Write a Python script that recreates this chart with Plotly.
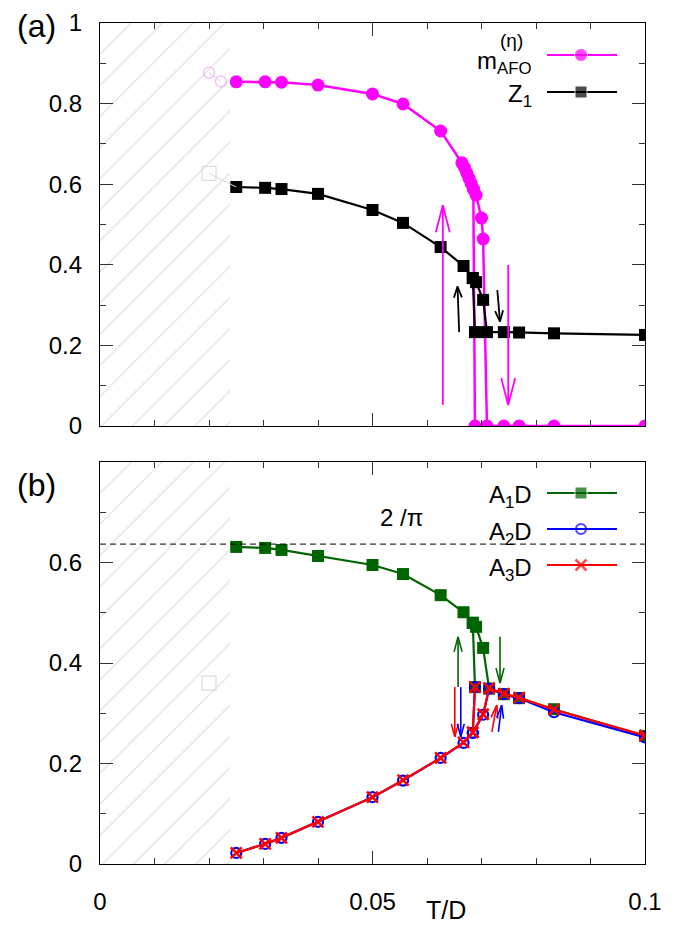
import math
import plotly.graph_objects as go

# ---------------- data ----------------
# panel (a): order parameter m_AFO^(eta) (heating / cooling branch)
T_m_heat = [0.025, 0.0303, 0.0333, 0.04, 0.05, 0.0556, 0.0625, 0.0664, 0.0669, 0.0673,
            0.0677, 0.0681, 0.0685, 0.0690, 0.0700, 0.0703, 0.0710, 0.0741, 0.0769, 0.0833, 0.1]
m_heat = [0.854, 0.854, 0.853, 0.846, 0.824, 0.799, 0.732, 0.653, 0.641, 0.628,
          0.615, 0.602, 0.588, 0.573, 0.516, 0.464, 0.0, 0.0, 0.0, 0.0, 0.0]
T_m_cool = [0.0685, 0.0688]
m_cool = [0.588, 0.0]

# panel (a): quasiparticle weight Z_1
T_z_heat = [0.025, 0.0303, 0.0333, 0.04, 0.05, 0.0556, 0.0625, 0.0667, 0.0684, 0.0690,
            0.0703, 0.0710, 0.0741, 0.0769, 0.0833, 0.1]
z_heat = [0.593, 0.591, 0.588, 0.576, 0.536, 0.504, 0.444, 0.397, 0.367, 0.357,
          0.313, 0.233, 0.233, 0.232, 0.230, 0.226]
T_z_cool = [0.0684, 0.0688]
z_cool = [0.367, 0.233]

# panel (b): A_1 D, A_2 D, A_3 D
T_b_heat = [0.025, 0.0303, 0.0333, 0.04, 0.05, 0.0556, 0.0625, 0.0667, 0.0684, 0.0690,
            0.0703, 0.0714, 0.0741, 0.0769, 0.0833, 0.1]
a1_heat = [0.631, 0.629, 0.625, 0.613, 0.595, 0.577, 0.535, 0.501, 0.480, 0.472,
           0.430, 0.349, 0.338, 0.330, 0.308, 0.255]
T_b_low = [0.025, 0.0303, 0.0333, 0.04, 0.05, 0.0556, 0.0625, 0.0667, 0.0684,
           0.0703, 0.0714, 0.0741, 0.0769, 0.0833, 0.1]
a2_heat = [0.022, 0.040, 0.052, 0.084, 0.133, 0.166, 0.211, 0.241, 0.261,
           0.297, 0.349, 0.338, 0.330, 0.302, 0.252]
a3_heat = [0.022, 0.040, 0.052, 0.084, 0.133, 0.167, 0.211, 0.242, 0.262,
           0.298, 0.350, 0.339, 0.331, 0.307, 0.256]
T_b_cool = [0.0684, 0.0688]
a1_cool = [0.480, 0.352]
a2_cool = [0.261, 0.352]
a3_cool = [0.262, 0.352]

# unconverged (faded) points inside the hatched region
T_fade_m = [0.0200, 0.0222]
m_fade = [0.877, 0.855]
T_fade_z = [0.0200, 0.025]
z_fade = [0.627, 0.593]
T_fade_a1 = [0.0200]
a1_fade = [0.360]

T_hatch = 0.02385
two_over_pi = 2 / math.pi

# hysteresis arrows: (x0, y0, x1, y1)
arrows_a = [
    ((0.0629, 0.052, 0.0629, 0.548), "#ff00ff", 1.8, 27, 7),
    ((0.0749, 0.400, 0.0749, 0.052), "#ff00ff", 1.8, 27, 7),
    ((0.0659, 0.233, 0.0656, 0.346), "black", 1.8, 11, 4),
    ((0.0729, 0.337, 0.0734, 0.259), "black", 1.8, 11, 4),
]
arrows_b = [
    ((0.0657, 0.352, 0.0657, 0.452), "#006400", 1.6, 15, 4),
    ((0.0734, 0.452, 0.0734, 0.360), "#006400", 1.6, 15, 4),
    ((0.0651, 0.352, 0.0651, 0.253), "#ff0000", 1.6, 13, 3.5),
    ((0.0662, 0.352, 0.0662, 0.253), "#0000ff", 1.6, 13, 3.5),
    ((0.0719, 0.263, 0.0728, 0.316), "#ff0000", 1.6, 13, 3.5),
    ((0.0731, 0.263, 0.0737, 0.316), "#0000ff", 1.6, 13, 3.5),
]

# ---------------- layout geometry ----------------
# the page body adds an 8px offset; target plot box on screen: x 100..645, y 23..864
OFF = 8
W, H = 683, 933
PW, PH = 545, 841
ML, MT = 100 - OFF, 23 - OFF
MR = W - ML - PW
MB = H - MT - PH
DOM_A = [0.5208, 1.0]
DOM_B = [0.0, 0.478]
XR = [0, 0.1]
YRA = [0, 1]
YRB = [0, 0.8]
FONT = "Liberation Sans, Arial, sans-serif"

KX = PW / (XR[1] - XR[0])
KYA = PH * (DOM_A[1] - DOM_A[0]) / (YRA[1] - YRA[0])
KYB = PH * (DOM_B[1] - DOM_B[0]) / (YRB[1] - YRB[0])


def px_x(xp):
    return XR[0] + (xp - OFF - ML) / KX


def px_ya(yp):
    top = MT + PH * (1 - DOM_A[1])
    return YRA[1] - (yp - OFF - top) / KYA


def px_yb(yp):
    top = MT + PH * (1 - DOM_B[1])
    return YRB[1] - (yp - OFF - top) / KYB


def paper(xp, yp):
    return (xp - OFF - ML) / PW, (MT + PH - (yp - OFF)) / PH


fig = go.Figure()

MAG, GRN, BLU, RED = "#ff00ff", "#006400", "#0000ff", "#ff0000"


def add(x, y, xa, ya, **kw):
    fig.add_trace(go.Scatter(x=x, y=y, xaxis=xa, yaxis=ya, showlegend=False,
                             hoverinfo="skip", **kw))


# ---- panel (a) ----
for tx, ty in [(T_m_heat, m_heat), (T_m_cool, m_cool)]:
    add(tx, ty, "x", "y", mode="lines+markers", line=dict(color=MAG, width=2.5),
        marker=dict(symbol="circle", size=13, color=MAG))
for tx, ty in [(T_z_heat, z_heat), (T_z_cool, z_cool)]:
    add(tx, ty, "x", "y", mode="lines+markers", line=dict(color="black", width=2.2),
        marker=dict(symbol="square", size=12, color="black"))

# ---- panel (b) ----
add(T_b_heat, a1_heat, "x2", "y2", mode="lines+markers", line=dict(color=GRN, width=2.2),
    marker=dict(symbol="square", size=12, color=GRN))
add(T_b_cool, a1_cool, "x2", "y2", mode="lines+markers", line=dict(color=GRN, width=2.2),
    marker=dict(symbol="square", size=12, color=GRN))
for ty, tc in [(a2_heat, a2_cool)]:
    add(T_b_low, ty, "x2", "y2", mode="lines+markers", line=dict(color=BLU, width=2.2),
        marker=dict(symbol="circle-open", size=10, color=BLU, line=dict(width=2.2, color=BLU)))
    add(T_b_cool, tc, "x2", "y2", mode="lines+markers", line=dict(color=BLU, width=2.2),
        marker=dict(symbol="circle-open", size=10, color=BLU, line=dict(width=2.2, color=BLU)))
for ty, tc in [(a3_heat, a3_cool)]:
    add(T_b_low, ty, "x2", "y2", mode="lines+markers", line=dict(color=RED, width=2.2),
        marker=dict(symbol="x-thin", size=11, color=RED, line=dict(width=2.5, color=RED)))
    add(T_b_cool, tc, "x2", "y2", mode="lines+markers", line=dict(color=RED, width=2.2),
        marker=dict(symbol="x-thin", size=11, color=RED, line=dict(width=2.5, color=RED)))

# ---- hatched (unreliable) region, drawn over the data ----
for xa, ya, yr in [("x", "y", YRA), ("x2", "y2", YRB)]:
    add([0, T_hatch, T_hatch, 0, 0], [yr[0], yr[0], yr[1], yr[1], yr[0]], xa, ya,
        mode="lines", line=dict(width=0, color="rgba(0,0,0,0)"), fill="toself",
        fillcolor="white",
        fillpattern=dict(shape="/", size=22, solidity=0.06, fgcolor="#c4c4c4",
                         bgcolor="white"))

# ---- faded points ----
add(T_fade_m, m_fade, "x", "y", mode="lines+markers", line=dict(color="#f6c6f6", width=1),
    marker=dict(symbol="circle-open", size=11, color="#f2b4f2", line=dict(width=1.2)))
add(T_fade_z, z_fade, "x", "y", mode="lines+markers", line=dict(color="#d8d8d8", width=1),
    marker=dict(symbol="square-open", size=[14, 0], color="#cfcfcf", line=dict(width=1.2)))
add(T_fade_a1, a1_fade, "x2", "y2", mode="markers",
    marker=dict(symbol="square-open", size=14, color="#d2e2d2", line=dict(width=1.2)))


# ---- arrows ----
def draw_arrows(arrs, xa, ya, ky):
    for (x0, y0, x1, y1), col, lw, L, Wd in arrs:
        dx, dy = (x1 - x0) * KX, (y1 - y0) * ky
        n = math.hypot(dx, dy)
        ux, uy = dx / n, dy / n
        nx, ny = -uy, ux
        hx1 = x1 + (-L * ux + Wd * nx) / KX
        hy1 = y1 + (-L * uy + Wd * ny) / ky
        hx2 = x1 + (-L * ux - Wd * nx) / KX
        hy2 = y1 + (-L * uy - Wd * ny) / ky
        add([x0, x1, None, hx1, x1, hx2], [y0, y1, None, hy1, y1, hy2], xa, ya,
            mode="lines", line=dict(color=col, width=lw))


draw_arrows(arrows_a, "x", "y", KYA)
draw_arrows(arrows_b, "x2", "y2", KYB)

# ---- legends (text on the left, key on the right) ----
LX0, LXM, LX1 = px_x(547), px_x(581), px_x(617)
leg_a = [(px_ya(55), MAG, dict(symbol="circle", size=13, color=MAG)),
         (px_ya(92), "black", dict(symbol="square", size=12, color="black"))]
for yy, col, mk in leg_a:
    mk = dict(mk)
    mk["size"] = [0, mk["size"], 0]
    add([LX0, LXM, LX1], [yy] * 3, "x", "y", mode="lines+markers",
        line=dict(color=col, width=2.2), marker=mk)
leg_b = [(px_yb(493), GRN, dict(symbol="square", size=12, color=GRN)),
         (px_yb(529), BLU, dict(symbol="circle-open", size=10, color=BLU,
                                line=dict(width=2.2, color=BLU))),
         (px_yb(565), RED, dict(symbol="x-thin", size=11, color=RED,
                                line=dict(width=2.5, color=RED)))]
for yy, col, mk in leg_b:
    mk = dict(mk)
    mk["size"] = [0, mk["size"], 0]
    add([LX0, LXM, LX1], [yy] * 3, "x2", "y2", mode="lines+markers",
        line=dict(color=col, width=2.2), marker=mk)

ann = []


def text(xp, yp, s, size=24, xanchor="center"):
    px_, py_ = paper(xp, yp)
    ann.append(dict(x=px_, y=py_, xref="paper", yref="paper", text=s, showarrow=False,
                    xanchor=xanchor, yanchor="middle",
                    font=dict(family=FONT, size=size, color="black")))


text(534, 62, "m<sub>AFO</sub>", xanchor="right")
text(511, 40, "(η)", size=19)
text(534, 96, "Z<sub>1</sub>", xanchor="right")
text(534, 497, "A<sub>1</sub>D", xanchor="right")
text(534, 533, "A<sub>2</sub>D", xanchor="right")
text(534, 569, "A<sub>3</sub>D", xanchor="right")
text(401, 517, "2 /π")
text(446, 910, "T/D", size=25)
text(36, 26, "(a)", size=32)
text(36, 485, "(b)", size=32)

axis_common = dict(showgrid=False, zeroline=False, showline=True, linecolor="black",
                   linewidth=1.4, mirror="ticks", ticks="inside", ticklen=13,
                   tickwidth=1.1, tickcolor="#333", automargin=False,
                   tickfont=dict(family=FONT, size=24, color="black"))
minor_x = dict(tickvals=[round(0.01 * i, 2) for i in range(11)], ticklen=6,
               ticks="inside", tickwidth=1.1, tickcolor="#333")

fig.update_layout(
    width=W, height=H, margin=dict(l=ML, r=MR, t=MT, b=MB, autoexpand=False),
    plot_bgcolor="white", paper_bgcolor="white", showlegend=False,
    xaxis=dict(axis_common, domain=[0, 1], range=XR, anchor="y",
               tickmode="array", tickvals=[0, 0.05, 0.1], showticklabels=False,
               minor=minor_x),
    yaxis=dict(axis_common, domain=DOM_A, range=YRA, anchor="x",
               tickmode="array", tickvals=[0, 0.2, 0.4, 0.6, 0.8, 1.0],
               ticktext=["0", "0.2", "0.4", "0.6", "0.8", "1"], ticklabelstandoff=12,
               minor=dict(tickvals=[0.1, 0.3, 0.5, 0.7, 0.9], ticklen=6, ticks="inside",
                          tickwidth=1.1, tickcolor="#333")),
    xaxis2=dict(axis_common, domain=[0, 1], range=XR, anchor="y2",
                tickmode="array", tickvals=[0, 0.05, 0.1], ticktext=["0", "0.05", "0.1"],
                ticklabelstandoff=16, minor=minor_x),
    yaxis2=dict(axis_common, domain=DOM_B, range=YRB, anchor="x2",
                tickmode="array", tickvals=[0, 0.2, 0.4, 0.6, 0.8],
                ticktext=["0", "0.2", "0.4", "0.6", ""], ticklabelstandoff=12,
                minor=dict(tickvals=[0.1, 0.3, 0.5, 0.7], ticklen=6, ticks="inside",
                           tickwidth=1.1, tickcolor="#333")),
    annotations=ann,
    shapes=[dict(type="line", xref="x2", yref="y2", x0=XR[0], x1=XR[1],
                 y0=two_over_pi, y1=two_over_pi, layer="above",
                 line=dict(color="black", width=1, dash="6px,4px"))],
)

fig.write_html("out.html")
